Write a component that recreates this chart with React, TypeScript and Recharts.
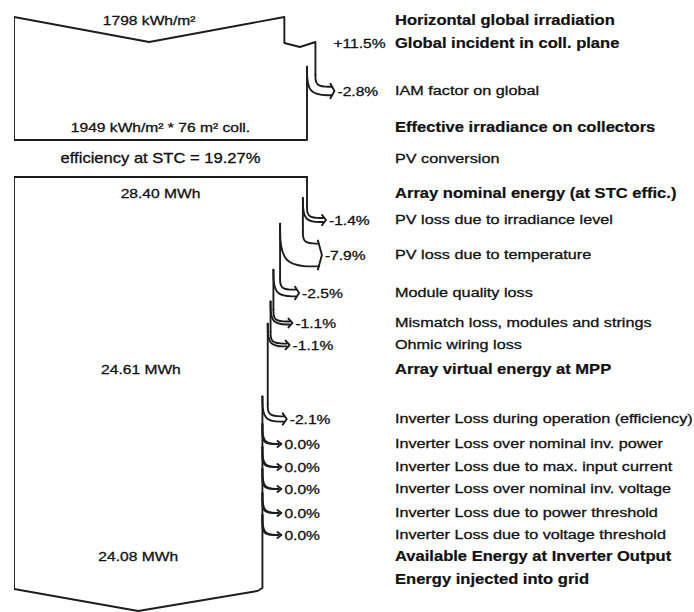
import React from "react";
import { ComposedChart, Line, Scatter, XAxis, YAxis } from "recharts";

// ---------- values ----------
const horizontalIrradiation = 1798; // kWh/m²
const collectorPlaneGainPct = 11.5;
const iamLossPct = -2.8;
const effectiveIrradiation = 1949; // kWh/m²
const collectorArea = 76; // m²
const stcEfficiencyPct = 19.27;
const arrayNominalEnergy = 28.4; // MWh
const arrayLossPct = [-1.4, -7.9, -2.5, -1.1, -1.1];
const arrayVirtualEnergy = 24.61; // MWh
const inverterLossPct = [-2.1, 0.0, 0.0, 0.0, 0.0, 0.0];
const inverterOutputEnergy = 24.08; // MWh

// ---------- texts ----------
const irradianceStageLabels = [
  "Horizontal global irradiation",
  "Global incident in coll. plane",
  "IAM factor on global",
  "Effective irradiance on collectors",
  "PV conversion",
  "Array nominal energy (at STC effic.)",
];
const irradianceStageBold = [true, true, false, true, false, true];
const arrayLossLabels = [
  "PV loss due to irradiance level",
  "PV loss due to temperature",
  "Module quality loss",
  "Mismatch loss, modules and strings",
  "Ohmic wiring loss",
];
const inverterLossLabels = [
  "Inverter Loss during operation (efficiency)",
  "Inverter Loss over nominal inv. power",
  "Inverter Loss due to max. input current",
  "Inverter Loss over nominal inv. voltage",
  "Inverter Loss due to power threshold",
  "Inverter Loss due to voltage threshold",
];
const outputStageLabels = [
  "Array virtual energy at MPP",
  "Available Energy at Inverter Output",
  "Energy injected into grid",
];

// ---------- layout (px) ----------
const W = 694;
const H = 612;
const PLOT_LEFT = 14;
const UNIT_PX = 293; // px per unit of relative flow width
const X_MAX = (W - PLOT_LEFT) / UNIT_PX;
const MARGIN = { top: 0, bottom: 0, left: PLOT_LEFT, right: 0 };
const dx = (p: number) => p / UNIT_PX;
const px2x = (p: number) => (p - PLOT_LEFT) / UNIT_PX;

const L = {
  topBlockTop: 17,
  topNotch: 42,
  topBlockBottom: 140,
  gainY: 43,
  gainDip: 47,
  block2Top: 177,
  block2Bottom: 589,
  block2Tip: 611,
  rowsTop: [20, 43, 90, 127, 158, 193],
  rowsArrayLoss: [219, 254, 292, 322, 344],
  rowMpp: 369,
  rowsInvLoss: [418, 443, 466, 488, 512, 534],
  rowAvail: 556,
  rowGrid: 579,
  descX: 395,
  arrowLen: 16,
  arrowDrop: 1,
};

const STROKE = "#1c1c1c";
const FONT = "'Liberation Sans', Arial, sans-serif";

type P = { x: number; y: number };
type Shape = { pts: P[]; curve: "linear" | "basis" };
type Lbl = { x: number; y: number; text: string; anchor: "start" | "middle" | "end"; bold: boolean; size: number };

const pctText = (v: number) => (v > 0 ? "+" : v < 0 ? "-" : "") + Math.abs(v).toFixed(1) + "%";

function lossArrow(a: number, b: number, row: number) {
  const yc = row + L.arrowDrop;
  const w = (a - b) * UNIT_PX;
  const tip = a + dx(L.arrowLen);
  const outerStart = yc - w / 2 - 12;
  const innerStart = yc - w / 2 - 20;
  const shapes: Shape[] = [
    { pts: [{ x: a, y: outerStart }, { x: a, y: yc - w / 2 }, { x: tip, y: yc - w / 2 }], curve: "basis" },
    { pts: [{ x: b, y: innerStart }, { x: b, y: yc + w / 2 }, { x: tip, y: yc + w / 2 }], curve: "basis" },
    {
      pts: [
        { x: tip - dx(1), y: yc - w / 2 - 3 },
        { x: tip + dx(3), y: yc },
        { x: tip - dx(1), y: yc + w / 2 + 3 },
      ],
      curve: "linear",
    },
  ];
  return { shapes, outerStart, innerStart, labelX: a + dx(L.arrowLen + 6), yc };
}

// ---------- build geometry from the values ----------
const shapes: Shape[] = [];
const labels: Lbl[] = [];

// irradiance block (relative to effective irradiance = 1)
const eN = 1;
const gN = eN / (1 + iamLossPct / 100);
const hN = gN / (1 + collectorPlaneGainPct / 100);
const iam = lossArrow(gN, eN, L.rowsTop[2]);
shapes.push({
  pts: [
    { x: 0, y: L.topBlockBottom },
    { x: 0, y: L.topBlockTop },
    { x: hN / 2, y: L.topNotch },
    { x: hN, y: L.topBlockTop },
    { x: hN, y: L.gainY },
    { x: (hN + gN) / 2, y: L.gainDip },
    { x: gN, y: L.gainY - 1 },
    { x: gN, y: iam.outerStart },
  ],
  curve: "linear",
});
shapes.push(...iam.shapes);
shapes.push({
  pts: [
    { x: eN, y: iam.innerStart },
    { x: eN, y: L.topBlockBottom },
    { x: 0, y: L.topBlockBottom },
  ],
  curve: "linear",
});

// energy block (relative to array nominal energy = 1)
const allLoss = [...arrayLossPct, ...inverterLossPct];
const allRows = [...L.rowsArrayLoss, ...L.rowsInvLoss];
let cur = 1;
let prevStart = L.block2Top;
const arrows = allLoss.map((pct, i) => {
  const next = cur * (1 + pct / 100);
  const arr = lossArrow(cur, next, allRows[i]);
  shapes.push({ pts: [{ x: cur, y: prevStart }, { x: cur, y: arr.outerStart }], curve: "linear" });
  shapes.push(...arr.shapes);
  prevStart = arr.innerStart;
  cur = next;
  return { ...arr, pct };
});
const mppFrac = arrayVirtualEnergy / arrayNominalEnergy;
const outFrac = inverterOutputEnergy / arrayNominalEnergy;
shapes.push({
  pts: [
    { x: outFrac, y: prevStart },
    { x: outFrac, y: L.block2Bottom - 1 },
    { x: outFrac - dx(5), y: L.block2Bottom + 2 },
    { x: outFrac / 2, y: L.block2Tip },
    { x: 0, y: L.block2Bottom },
    { x: 0, y: L.block2Top },
    { x: 1, y: L.block2Top },
  ],
  curve: "linear",
});

// ---------- labels ----------
const DESC = 13.5;
const DESC_BOLD = 13.8;
const VAL = 13;
irradianceStageLabels.forEach((t, i) =>
  labels.push({
    x: px2x(L.descX),
    y: L.rowsTop[i],
    text: t,
    anchor: "start",
    bold: irradianceStageBold[i],
    size: irradianceStageBold[i] ? DESC_BOLD : DESC,
  })
);
arrayLossLabels.forEach((t, i) =>
  labels.push({ x: px2x(L.descX), y: L.rowsArrayLoss[i], text: t, anchor: "start", bold: false, size: DESC })
);
labels.push({ x: px2x(L.descX), y: L.rowMpp, text: outputStageLabels[0], anchor: "start", bold: true, size: DESC_BOLD });
inverterLossLabels.forEach((t, i) =>
  labels.push({ x: px2x(L.descX), y: L.rowsInvLoss[i], text: t, anchor: "start", bold: false, size: DESC })
);
labels.push({ x: px2x(L.descX), y: L.rowAvail, text: outputStageLabels[1], anchor: "start", bold: true, size: DESC_BOLD });
labels.push({ x: px2x(L.descX), y: L.rowGrid, text: outputStageLabels[2], anchor: "start", bold: true, size: DESC_BOLD });

labels.push({ x: gN + dx(L.arrowLen + 2), y: L.rowsTop[1], text: pctText(collectorPlaneGainPct), anchor: "start", bold: false, size: VAL });
labels.push({ x: iam.labelX, y: iam.yc, text: pctText(iamLossPct), anchor: "start", bold: false, size: VAL });
arrows.forEach((a) => labels.push({ x: a.labelX, y: a.yc, text: pctText(a.pct), anchor: "start", bold: false, size: VAL }));

labels.push({ x: hN / 2, y: L.rowsTop[0], text: `${horizontalIrradiation} kWh/m²`, anchor: "middle", bold: false, size: VAL });
labels.push({
  x: eN / 2,
  y: L.rowsTop[3],
  text: `${effectiveIrradiation} kWh/m² * ${collectorArea} m² coll.`,
  anchor: "middle",
  bold: false,
  size: VAL,
});
labels.push({ x: eN / 2, y: L.rowsTop[4], text: `efficiency at STC = ${stcEfficiencyPct.toFixed(2)}%`, anchor: "middle", bold: false, size: 13.8 });
labels.push({ x: 0.5, y: L.rowsTop[5], text: `${arrayNominalEnergy.toFixed(2)} MWh`, anchor: "middle", bold: false, size: VAL });
labels.push({ x: mppFrac / 2, y: L.rowMpp, text: `${arrayVirtualEnergy.toFixed(2)} MWh`, anchor: "middle", bold: false, size: VAL });
labels.push({ x: outFrac / 2, y: L.rowAvail, text: `${inverterOutputEnergy.toFixed(2)} MWh`, anchor: "middle", bold: false, size: VAL });

const TextShape = (props: any) => {
  const p = props.payload || props;
  const { cx, cy } = props;
  if (cx == null || cy == null) return null;
  return (
    <text
      transform={`translate(${cx},${cy}) scale(1.2,1)`}
      textAnchor={p.anchor}
      dominantBaseline="central"
      fontFamily={FONT}
      fontSize={p.size}
      fontWeight={p.bold ? 700 : 400}
      fill="#111"
      stroke="#111"
      strokeWidth={p.bold ? 0.2 : 0.3}
    >
      {p.text}
    </text>
  );
};

export default function App() {
  return (
    <div style={{ width: W, height: H, background: "#fff" }}>
      <style>{"body{margin:0;background:#fff}"}</style>
      <ComposedChart width={W} height={H} margin={MARGIN}>
        <XAxis dataKey="x" type="number" domain={[0, X_MAX]} hide allowDataOverflow />
        <YAxis dataKey="y" type="number" domain={[0, H]} reversed hide allowDataOverflow />
        {shapes.map((s, i) => (
          <Line
            key={`s${i}`}
            data={s.pts}
            dataKey="y"
            type={s.curve}
            stroke={STROKE}
            strokeWidth={1.9}
            dot={false}
            activeDot={false}
            isAnimationActive={false}
            strokeLinejoin="round"
            strokeLinecap="round"
          />
        ))}
        <Scatter data={labels} dataKey="y" shape={TextShape} isAnimationActive={false} />
      </ComposedChart>
    </div>
  );
}
